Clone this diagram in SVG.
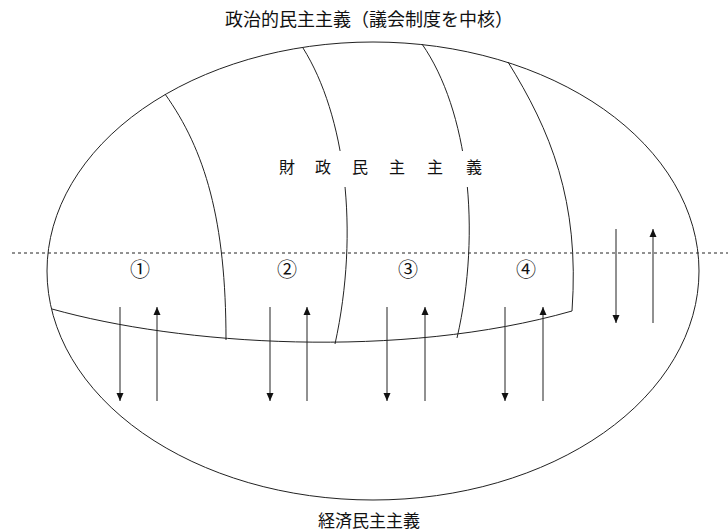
<svg xmlns="http://www.w3.org/2000/svg" width="728" height="532" viewBox="0 0 728 532">
<style>
.ln{fill:none;stroke:#222;stroke-width:1}
.t{font-family:"Noto Sans CJK JP","Noto Sans CJK SC",sans-serif;fill:#111}
.ar{stroke:#222;stroke-width:1;fill:none}
</style>
<defs>
<marker id="ah" viewBox="0 0 8 10" refX="8" refY="5" markerWidth="8" markerHeight="10" markerUnits="userSpaceOnUse" orient="auto">
<path d="M0,1.5 L8,5 L0,8.5 Z" fill="#111"/>
</marker>
<mask id="gap">
<rect x="0" y="0" width="728" height="532" fill="#fff"/>
<rect x="330" y="151" width="30" height="36" fill="#000"/>
<rect x="455" y="151" width="30" height="36" fill="#000"/>
</mask>
</defs>
<rect width="728" height="532" fill="#fff"/>
<g id="structure">
<ellipse id="outer" class="ln" cx="373" cy="271" rx="326" ry="229"/>
<line id="equator" x1="12" y1="253" x2="728" y2="253" stroke="#222" stroke-width="1" stroke-dasharray="3,3"/>
<path id="bottom-curve" class="ln" d="M52,309 C180,345 400,360 572,311"/>
<g mask="url(#gap)">
<path id="meridian1" class="ln" d="M165,94 C205,150 226,220 226,340"/>
<path id="meridian2" class="ln" d="M303,48 C345,115 360,230 335,344"/>
<path id="meridian3" class="ln" d="M422,44 C468,110 482,230 457,338"/>
<path id="meridian4" class="ln" d="M508,62 C550,130 580,200 572,311"/>
</g>
</g>
<g id="connectors">
<line class="ar" x1="120" y1="307" x2="120" y2="401" marker-end="url(#ah)"/>
<line class="ar" x1="157" y1="401" x2="157" y2="307" marker-end="url(#ah)"/>
<line class="ar" x1="270" y1="307" x2="270" y2="401" marker-end="url(#ah)"/>
<line class="ar" x1="307" y1="401" x2="307" y2="307" marker-end="url(#ah)"/>
<line class="ar" x1="387" y1="307" x2="387" y2="401" marker-end="url(#ah)"/>
<line class="ar" x1="425" y1="401" x2="425" y2="307" marker-end="url(#ah)"/>
<line class="ar" x1="505" y1="307" x2="505" y2="401" marker-end="url(#ah)"/>
<line class="ar" x1="543" y1="401" x2="543" y2="307" marker-end="url(#ah)"/>
<line class="ar" x1="616" y1="229" x2="616" y2="323" marker-end="url(#ah)"/>
<line class="ar" x1="653" y1="323" x2="653" y2="229" marker-end="url(#ah)"/>
</g>
<g id="title"><text class="t" x="369" y="26" font-size="18" text-anchor="middle">政治的民主主義（議会制度を中核）</text></g>
<g id="fiscal" class="t" font-size="16" text-anchor="middle">
<text x="287" y="173">財</text>
<text x="323" y="173">政</text>
<text x="360" y="173">民</text>
<text x="397" y="173">主</text>
<text x="435" y="173">主</text>
<text x="474" y="173">義</text>
</g>
<g id="n1"><text class="t" x="140" y="277" font-size="20" text-anchor="middle">①</text></g>
<g id="n2"><text class="t" x="287" y="277" font-size="20" text-anchor="middle">②</text></g>
<g id="n3"><text class="t" x="408" y="277" font-size="20" text-anchor="middle">③</text></g>
<g id="n4"><text class="t" x="526" y="277" font-size="20" text-anchor="middle">④</text></g>
<g id="economic"><text class="t" x="369" y="527" font-size="17" text-anchor="middle">経済民主主義</text></g>
</svg>
